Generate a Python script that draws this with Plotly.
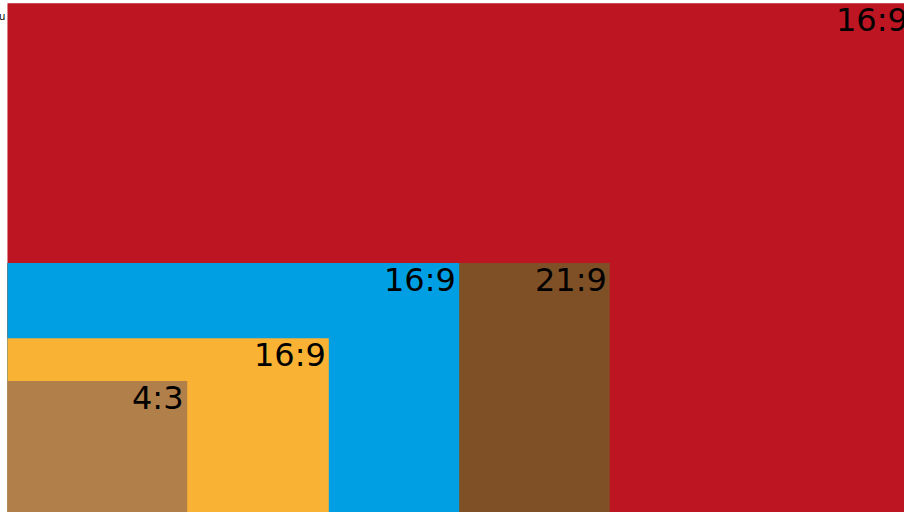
import plotly.graph_objects as go

# Screen formats (drawn largest first)
labels = ["16:9", "21:9", "16:9", "16:9", "4:3"]
widths = [3840, 2560, 1920, 1366, 764]
heights = [2160, 1080, 1080, 768, 590]
colors = ["#BD1622", "#7F5026", "#009FE3", "#F9B233", "#B17F4A"]

fig = go.Figure()

shapes = []
annotations = []
for lab, w, h, c in zip(labels, widths, heights, colors):
    shapes.append(dict(type="rect", xref="x", yref="y", x0=0, y0=0, x1=w, y1=h,
                       fillcolor=c, line=dict(width=0), layer="below"))
    annotations.append(dict(x=w, y=h, xref="x", yref="y", text=lab, showarrow=False,
                            xanchor="right", yanchor="top", xshift=-1, yshift=4,
                            font=dict(family="DejaVu Sans", size=32, color="#000000")))

annotations.append(dict(x=-0.005, y=0.968, xref="paper", yref="paper", text="u", showarrow=False,
                        xanchor="center", yanchor="middle",
                        font=dict(family="DejaVu Sans", size=10, color="#000000")))

fig.add_trace(go.Scatter(x=[0], y=[0], mode="markers", marker=dict(opacity=0),
                         hoverinfo="skip", showlegend=False))

fig.update_layout(
    width=920, height=512,
    margin=dict(l=7, r=0, t=0, b=0, pad=0),
    paper_bgcolor="white", plot_bgcolor="white",
    shapes=shapes, annotations=annotations,
    showlegend=False,
    xaxis=dict(range=[-2, 3879], visible=False, showgrid=False, zeroline=False, fixedrange=True),
    yaxis=dict(range=[45.7, 2173], visible=False, showgrid=False, zeroline=False, fixedrange=True),
)

fig.write_html("out.html", config={"displayModeBar": False},
               post_script="document.body.style.margin='0';document.body.style.overflow='hidden';document.documentElement.style.overflow='hidden';")
